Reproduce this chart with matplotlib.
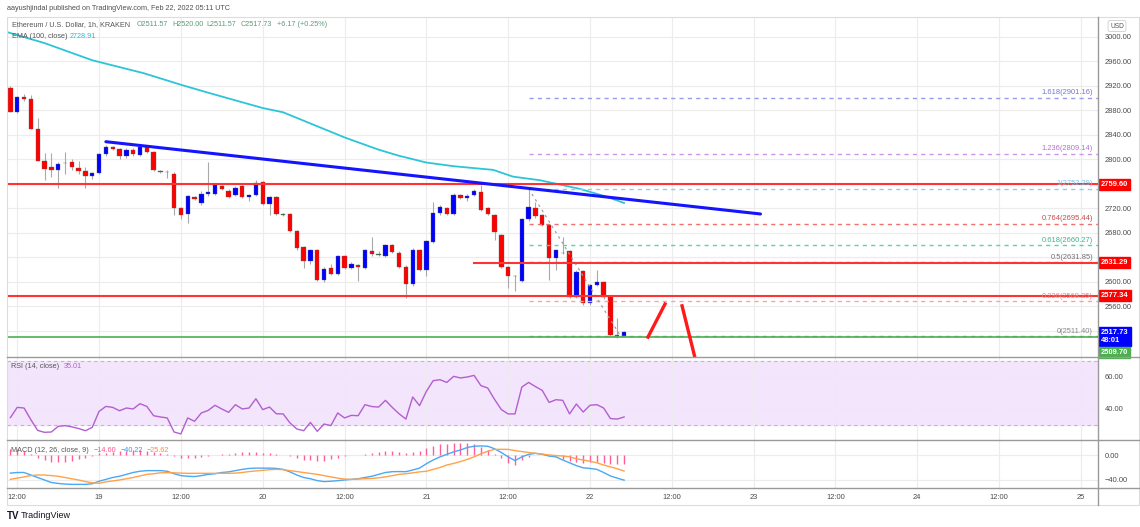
import matplotlib
matplotlib.use("Agg")
import matplotlib.pyplot as plt
import matplotlib.transforms as mtransforms
from matplotlib.lines import Line2D
from matplotlib.patches import Rectangle
import numpy as np

plt.rcParams['font.family'] = ['Liberation Sans', 'DejaVu Sans']

# hourly candles, ETH/USD Kraken, from Feb 18 11:00 to Feb 22 05:00
opens = [2917, 2878, 2902, 2898, 2849, 2798, 2787, 2783, 2794, 2796,
         2786, 2781, 2773, 2778, 2809, 2820, 2817, 2806, 2816, 2808,
         2820, 2812, 2781, 2780, 2777, 2721, 2711, 2738, 2729, 2743,
         2744, 2756, 2749, 2742, 2756, 2739, 2742, 2763, 2727, 2739,
         2711, 2711, 2683, 2657, 2634, 2652, 2604, 2623, 2613, 2642,
         2623, 2627, 2623, 2651, 2645, 2643, 2660, 2648, 2625, 2596,
         2652, 2620, 2666, 2712, 2721, 2711, 2742, 2737, 2742, 2747,
         2721, 2709, 2677, 2624, 2610, 2602, 2702, 2721, 2709, 2693,
         2639, 2648, 2650, 2576, 2618, 2566, 2595, 2600, 2575, 2513,
         2511.57]
highs = [2920, 2903, 2907, 2905, 2868, 2810, 2810, 2796, 2813, 2800,
         2797, 2787, 2780, 2811, 2823, 2822, 2819, 2818, 2818, 2823,
         2823, 2814, 2783, 2782, 2779, 2723, 2742, 2740, 2748, 2796,
         2760, 2758, 2751, 2756, 2758, 2744, 2767, 2765, 2740, 2741,
         2713, 2713, 2685, 2659, 2654, 2654, 2624, 2630, 2644, 2644,
         2632, 2629, 2654, 2673, 2650, 2662, 2662, 2650, 2627, 2656,
         2654, 2669, 2730, 2726, 2723, 2745, 2744, 2743, 2752, 2758,
         2723, 2711, 2679, 2626, 2612, 2705, 2753, 2730, 2711, 2695,
         2654, 2674, 2652, 2619, 2620, 2597, 2620, 2602, 2577, 2541,
         2520]
lows = [2877, 2876, 2896, 2849, 2797, 2767, 2771, 2753, 2777, 2782,
        2776, 2753, 2768, 2776, 2806, 2815, 2800, 2803, 2806, 2806,
        2810, 2781, 2778, 2770, 2709, 2702, 2696, 2734, 2725, 2741,
        2742, 2750, 2737, 2740, 2737, 2732, 2740, 2725, 2710, 2709,
        2708, 2681, 2653, 2623, 2630, 2602, 2600, 2611, 2611, 2621,
        2621, 2602, 2621, 2643, 2642, 2641, 2647, 2622, 2574, 2594,
        2618, 2610, 2664, 2710, 2709, 2709, 2735, 2733, 2740, 2716,
        2709, 2668, 2622, 2590, 2585, 2600, 2700, 2705, 2691, 2603,
        2620, 2645, 2574, 2574, 2563, 2563, 2593, 2573, 2511, 2509,
        2511.57]
closes = [2877, 2902, 2898, 2849, 2798, 2784, 2782, 2793, 2795, 2788,
          2781, 2773, 2778, 2809, 2820, 2817, 2806, 2816, 2809, 2821,
          2812, 2783, 2780, 2779, 2721, 2710, 2740, 2736, 2743, 2747,
          2758, 2752, 2739, 2754, 2739, 2742, 2762, 2727, 2738, 2711,
          2710, 2683, 2655, 2634, 2652, 2604, 2621, 2613, 2642, 2623,
          2630, 2625, 2652, 2645, 2644, 2660, 2649, 2624, 2596, 2653,
          2620, 2667, 2713, 2723, 2711, 2742, 2737, 2741, 2748, 2718,
          2711, 2681, 2624, 2609, 2609, 2702, 2723, 2707, 2693, 2639,
          2652, 2647, 2576, 2617, 2566, 2595, 2600, 2575, 2513, 2511,
          2517.73]

# EMA(100) read at a few candle positions
ema_pos = [-0.5, 5, 12, 19.5, 25, 29, 37, 40, 49, 54, 57, 61, 65, 70.8, 73.7, 77.7, 83.5, 87.5, 90]
ema_val = [3008, 2990, 2962, 2941, 2922, 2909, 2884, 2877, 2836, 2816, 2806, 2795, 2789, 2783,
           2772, 2766, 2752, 2739, 2728.91]

rsi = [34.6, 41, 40.6, 33.3, 26.6, 25.4, 25.6, 29.1, 29.6, 28.8,
       27.8, 26.4, 28.5, 38.5, 41.6, 41, 38.9, 40.6, 40, 43.3,
       41.6, 35.8, 35, 34.4, 25.6, 24.4, 34.4, 32.3, 37.5, 39.1,
       42.3, 40, 37.9, 42.7, 40, 40.6, 46.4, 39.6, 41.2, 37,
       36.9, 31.3, 27.5, 26.4, 31.6, 26, 30.6, 29.6, 37.5, 34.4,
       36, 35.8, 42.7, 41.5, 41.2, 45.4, 41, 37, 33.7, 47.5,
       42.1, 51, 57.7, 58.3, 56.6, 60.4, 59.4, 60, 61, 54.6,
       53.1, 46, 39.6, 36.9, 36.9, 53.7, 56.6, 54, 51.6, 44.1,
       45.8, 45.4, 36.9, 43.1, 38.1, 42.3, 42.7, 40.6, 34, 33.7,
       35.01]

macd = [-29, -28, -28, -32, -36, -40, -44, -45.5, -46.5, -47,
        -47, -47, -46, -42, -39, -36, -34, -31, -28, -26,
        -25, -25, -25, -26, -30, -33, -34, -34.5, -33, -31,
        -30, -28, -27, -25, -23, -21.5, -21, -21, -21, -21.5,
        -23, -27, -32, -36, -38, -41, -42.5, -42, -41, -40,
        -39, -38, -36, -34, -31, -28, -26.7, -26.5, -26.7, -24,
        -21, -14, -8, -3, 1, 5, 8, 12, 14, 14.5,
        14, 10, 4, -3, -9, -3, 1, 2.7, 1, -1.6,
        -3, -8, -12.5, -17, -20.5, -21.5, -23, -28, -33.6, -37,
        -40.22]
signal = [-38.9, -37, -35, -33, -32, -32, -33, -34, -36, -38,
          -40, -42.5, -44.5, -45.3, -43, -41.5, -40, -38, -36, -33.5,
          -31, -30, -28.5, -28.3, -28.5, -29, -29.3, -29.3, -29.3, -29.3,
          -29.3, -29.3, -29.3, -29, -28, -26.5, -25.5, -24.5, -23.5, -23,
          -23.5, -25, -26.5, -28, -29.5, -31, -33, -35, -37, -38.5,
          -39, -38.5, -38, -37.5, -36.5, -35, -33, -31, -30, -28.5,
          -27, -26, -23, -20, -16, -13.5, -10.5, -7, -3, 2,
          6, 9, 9.1, 9, 7, 5.5, 4, 2.7, 1.5, 0,
          -1, -1.6, -3, -6, -8, -10, -12.5, -16, -19, -22,
          -25.62]

time_labels = ['12:00', '19', '12:00', '20', '12:00', '21', '12:00', '22',
               '12:00', '23', '12:00', '24', '12:00', '25']

fib_levels = ['1.618', '1.236', '1', '0.764', '0.618', '0.5', '0.236', '0']
fib_prices = [2901.16, 2809.14, 2752.29, 2695.44, 2660.27, 2631.85, 2568.25, 2511.40]
fib_colors = ['#9a9ae8', '#cf94ec', '#8ccfef', '#f07070', '#55d6aa', '#9e9e9e', '#f5a5a5', '#a0a0a0']
fib_text = ['#7474d4', '#b070d8', '#78c0e6', '#c84848', '#35b98a', '#707070', '#f08080', '#888888']

# price levels whose axis label sits under a coloured box
hidden_ticks = [2520, 2640, 2760]

trend_x = [14, 110]
trend_y = [2829, 2711]
arrow1_x, arrow1_y = [93.5, 96.0], [2510, 2564]
arrow2_x, arrow2_y = [98.5, 100.4], [2561, 2476]

W, H = 1140, 527


def box(x0, y0, x1, y1):
    return [x0 / W, 1 - y1 / H, (x1 - x0) / W, (y1 - y0) / H]


def ftext(px, py, s, **kw):
    kw.setdefault('fontsize', 5.2)
    fig.text(px / W, 1 - py / H, s, va='center', ha='left', **kw)


fig = plt.figure(figsize=(W / 100, H / 100), dpi=100)
ax = fig.add_axes(box(7, 17, 1098, 357))
ax_rsi = fig.add_axes(box(7, 357, 1098, 440), sharex=ax)
ax_macd = fig.add_axes(box(7, 440, 1098, 488), sharex=ax)

x = np.arange(len(closes))
o = np.array(opens)
c = np.array(closes)
ticks = np.arange(len(time_labels)) * 12 + 1

for a in (ax, ax_rsi, ax_macd):
    for s in a.spines.values():
        s.set_visible(False)
    a.set_xticks(ticks)
    a.grid(True, color='#ececec', lw=0.8, zorder=0)
    a.yaxis.tick_right()
    a.tick_params(axis='y', length=0, labelsize=5.4, labelcolor='#4a4a4a', pad=5)
    a.tick_params(axis='x', length=0, labelbottom=False)
    a.yaxis.set_major_formatter('{x:.2f}')
ax.set_xlim(-0.5, 159.5)

# price pane
ax.set_ylim(2477.5, 3032.6)
ax.set_yticks(np.arange(2520, 3001, 40))
ax.yaxis.set_major_formatter(
    lambda v, pos: '' if round(v) in hidden_ticks else f'{v:.2f}')
ax.vlines(x, lows, highs, color='#a9a9a9', lw=0.8, zorder=3)
body_col = np.where(c >= o, '#0000ff', '#ff0000')
body_col = np.where(np.abs(c - o) < 1.5, '#3f7050', body_col)
ax.bar(x, np.maximum(np.abs(c - o), 0.9), bottom=np.minimum(o, c), width=0.64,
       color=body_col, edgecolor='#606060', lw=0.25, zorder=4)
ax.plot(ema_pos, ema_val, color='#2cc5d8', lw=1.3, zorder=5)

ax.axhline(2759.60, color='#ff3333', lw=1.5, zorder=6)
ax.axhline(2577.34, color='#ff3333', lw=1.5, zorder=6)
ax.plot([68, 159.5], [2631.29, 2631.29], color='#ff3333', lw=1.5, zorder=6)
ax.axhline(2509.70, color='#4caf50', lw=1.2, zorder=6)
ax.plot(trend_x, trend_y, color='#1414ff', lw=2.2, zorder=7, solid_capstyle='round')
ax.plot(arrow1_x, arrow1_y, color='#ff1a1a', lw=2.4, zorder=7)
ax.plot(arrow2_x, arrow2_y, color='#ff1a1a', lw=2.4, zorder=7)

blend = mtransforms.blended_transform_factory(ax.transAxes, ax.transData)
for lev, p, lc, tc in zip(fib_levels, fib_prices, fib_colors, fib_text):
    ax.plot([76, 159.5], [p, p], color=lc, lw=1.0, ls=(0, (3, 3)), zorder=5)
    ax.annotate(f'{lev}({p:.2f})', xy=(0.9955, p), xycoords=blend, xytext=(0, 1.5),
                textcoords='offset pixels', ha='right', va='bottom', fontsize=5.4,
                color=tc, zorder=8)
ax.plot([76, 89.5], [fib_prices[2], fib_prices[-1]], color='#a0a0a0', lw=0.9,
        ls=(0, (2, 3)), zorder=5)


def price_box(p, s, fc, dy=0):
    ax.annotate(s, xy=(1, p), xycoords=blend, xytext=(3, dy), textcoords='offset pixels',
                ha='left', va='center', fontsize=5.4, color='white', fontweight='bold',
                bbox=dict(boxstyle='square,pad=0.28', fc=fc, ec=fc), annotation_clip=False,
                zorder=10)


price_box(2759.60, '2759.60', '#ff0000')
price_box(2631.29, '2631.29', '#ff0000')
price_box(2577.34, '2577.34', '#ff0000')
price_box(2517.73, '2517.73\n48:01', '#0000ff', dy=-4)
price_box(2509.70, '2509.70', '#4caf50', dy=-15)

# RSI pane
ax_rsi.set_ylim(20.6, 72.5)
ax_rsi.set_yticks([40, 60])
ax_rsi.axhspan(30, 70, color='#f3e5fc', zorder=0.5)
for lvl in (30, 70):
    ax_rsi.axhline(lvl, color='#c3b1d3', lw=0.8, ls=(0, (3, 3)), zorder=1)
ax_rsi.plot(x, rsi, color='#b25fd0', lw=1.0, zorder=4)

# MACD pane
hist = np.array(macd) - np.array(signal)
ax_macd.set_ylim(-52.8, 24)
ax_macd.set_yticks([-40, 0])
ax_macd.vlines(x, 0, hist, color='#ff5c9a', lw=1.0, zorder=3)
ax_macd.plot(x, macd, color='#4aa8f5', lw=1.0, zorder=4)
ax_macd.plot(x, signal, color='#ffa24a', lw=1.0, zorder=4)
ax_macd.set_xticks(ticks)
ax_macd.set_xticklabels(time_labels)
ax_macd.tick_params(axis='x', labelbottom=True, labelsize=5.4, labelcolor='#4a4a4a', pad=4)

# frame and separators
fig.add_artist(Rectangle((7 / W, 1 - 505 / H), 1132 / W, 488 / H, transform=fig.transFigure,
                         fill=False, ec='#dcdcdc', lw=0.8))
for yy in (357, 440, 488):
    fig.add_artist(Line2D([7 / W, 1139 / W], [1 - yy / H] * 2, transform=fig.transFigure,
                          color='#9a9a9a', lw=1.0))
fig.add_artist(Line2D([1098 / W] * 2, [1 - 17 / H, 1 - 505 / H], transform=fig.transFigure,
                      color='#9a9a9a', lw=1.0))

# header texts
ftext(7, 9, 'aayushjindal published on TradingView.com, Feb 22, 2022 05:11 UTC', color='#505050')
ftext(12, 25, 'Ethereum / U.S. Dollar, 1h, KRAKEN', color='#555555')
for px, s in [(137, 'O2511.57'), (172, 'H2520.00'), (206, 'L2511.57'), (241, 'C2517.73'),
              (277, '+6.17 (+0.25%)')]:
    ftext(px, 25, s, color='#5e9a78')
ftext(12, 36, 'EMA (100, close)', color='#555555')
ftext(70, 36, '2728.91', color='#26bcd0')
ftext(11, 366, 'RSI (14, close)', color='#555555')
ftext(64, 366, '35.01', color='#b25fd0')
ftext(11, 450, 'MACD (12, 26, close, 9)', color='#555555')
ftext(94, 450, '\u221214.60', color='#ff4f8a')
ftext(121, 450, '\u221240.22', color='#2d9cf0')
ftext(147, 450, '\u221225.62', color='#ff8c2a')
fig.text(1117 / W, 1 - 26 / H, 'USD', fontsize=4.8, color='#555555', ha='center', va='center',
         bbox=dict(boxstyle='round,pad=0.3', fc='white', ec='#cfcfcf', lw=0.6))
ftext(7, 516, 'TV', fontsize=7, fontweight='bold', color='#131722')
ftext(21, 516, 'TradingView', fontsize=6.5, color='#131722')

fig.savefig('out.png', dpi=100)
